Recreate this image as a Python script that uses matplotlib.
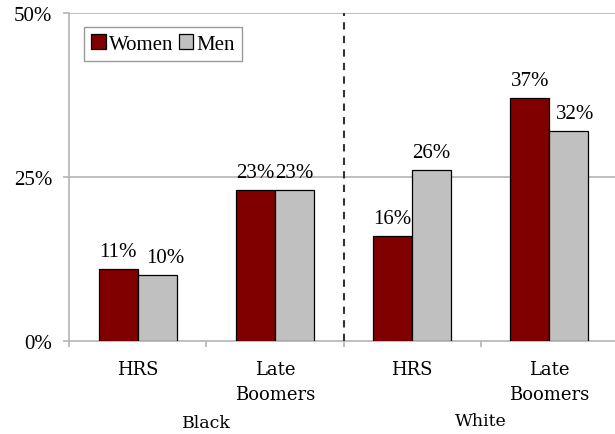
import matplotlib
matplotlib.use("Agg")
import matplotlib.pyplot as plt
import matplotlib.transforms as mtransforms
import numpy as np

# Share of each group, by race and cohort
categories = ["HRS", "Late\nBoomers", "HRS", "Late\nBoomers"]
groups = ["Black", "White"]
women = [11, 23, 16, 37]
men = [10, 23, 26, 32]
yticks = [0, 25, 50]

# Sideways nudge (points) for the men's value labels so they don't collide
men_label_nudge = [6, 0, 0, 4.5]

women_color = "#800000"
men_color = "#c0c0c0"
grid_color = "#b4b4b4"
num_font = "Liberation Serif"
cat_font = "DejaVu Serif"

fig = plt.figure(figsize=(6.15, 4.35), dpi=100)
ax = fig.add_axes([69 / 615, 93 / 435, 549 / 615, 328 / 435])

x = np.arange(len(categories))
w = 0.285
bw = ax.bar(x - w / 2, women, w, color=women_color, edgecolor="black",
            linewidth=0.9, label="Women", zorder=3)
bm = ax.bar(x + w / 2, men, w, color=men_color, edgecolor="black",
            linewidth=0.9, label="Men", zorder=3)

for rects, vals, nudges in ((bw, women, [0] * len(women)),
                            (bm, men, men_label_nudge)):
    for r, v, dx in zip(rects, vals, nudges):
        ax.annotate(f"{v}%", (r.get_x() + r.get_width() / 2, v),
                    xytext=(dx, 6), textcoords="offset points",
                    ha="center", va="bottom", fontsize=15,
                    family=num_font, zorder=4)

ax.set_xlim(-0.5, 3.5)
ax.set_ylim(0, 50)

# Horizontal gridlines
for yv in yticks[1:]:
    ax.axhline(yv, color=grid_color, linewidth=1.2, zorder=1)

ax.set_yticks(yticks)
ax.set_yticklabels([f"{t}%" for t in yticks], family=num_font, fontsize=15)
ax.tick_params(axis="y", length=4.5, width=1.2, color=grid_color, pad=7.5)

# Category labels centred under each pair, ticks at the boundaries
ax.set_xticks(x)
ax.set_xticklabels(categories, family=cat_font, fontsize=13, linespacing=1.5,
                   va="top")
ax.tick_params(axis="x", which="major", length=0, pad=14)
ax.set_xticks(np.arange(-0.5, 4.0, 1.0), minor=True)
ax.tick_params(axis="x", which="minor", length=4.5, width=1.2, color=grid_color)

for side in ("top", "right"):
    ax.spines[side].set_visible(False)
for side in ("left", "bottom"):
    ax.spines[side].set_color(grid_color)
    ax.spines[side].set_linewidth(1.2)

# Divider between the two race groups
ax.plot([1.5, 1.5], [0, 50], color="#333333", linestyle=(0, (3.5, 3)),
        linewidth=1.5, clip_on=False, zorder=5)

trans = mtransforms.blended_transform_factory(ax.transData, fig.transFigure)
for gx, name, gy in zip([0.5, 2.5], groups, [11 / 435, 13 / 435]):
    ax.text(gx, gy, name, transform=trans, ha="center", va="center",
            family=cat_font, fontsize=12.5)

leg = ax.legend(loc="upper left", bbox_to_anchor=(0.027, 0.958), ncol=2,
                frameon=True, fancybox=False, prop={"family": num_font, "size": 15},
                handlelength=0.7, handleheight=0.7, handletextpad=0.15,
                columnspacing=0.25, borderpad=0.35, borderaxespad=0)
leg.get_frame().set_edgecolor("#808080")
leg.get_frame().set_linewidth(1.0)

fig.savefig("out.png", dpi=100)
